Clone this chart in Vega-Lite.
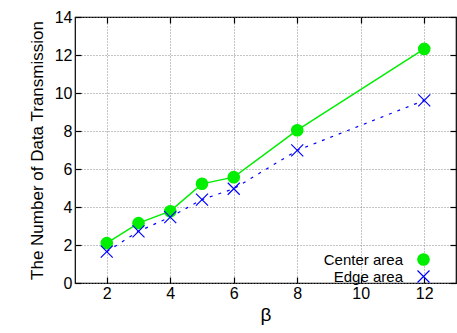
{
  "$schema": "https://vega.github.io/schema/vega-lite/v6.json",
  "width": 381,
  "height": 266,
  "autosize": "none",
  "padding": {"left": 75, "top": 17, "right": 1, "bottom": 50},
  "config": {
    "font": "Liberation Sans",
    "view": {"stroke": "black", "strokeWidth": 1.2}
  },
  "data": {
    "values": [
      {"beta": 2, "value": 2.1, "series": "Center area"},
      {"beta": 3, "value": 3.15, "series": "Center area"},
      {"beta": 4, "value": 3.78, "series": "Center area"},
      {"beta": 5, "value": 5.22, "series": "Center area"},
      {"beta": 6, "value": 5.57, "series": "Center area"},
      {"beta": 8, "value": 8.04, "series": "Center area"},
      {"beta": 12, "value": 12.32, "series": "Center area"},
      {"beta": 2, "value": 1.65, "series": "Edge area"},
      {"beta": 3, "value": 2.72, "series": "Edge area"},
      {"beta": 4, "value": 3.47, "series": "Edge area"},
      {"beta": 5, "value": 4.39, "series": "Edge area"},
      {"beta": 6, "value": 4.96, "series": "Edge area"},
      {"beta": 8, "value": 6.98, "series": "Edge area"},
      {"beta": 12, "value": 9.61, "series": "Edge area"}
    ]
  },
  "resolve": {"axis": {"x": "independent", "y": "independent"}},
  "layer": [
    {
      "transform": [{"filter": "datum.series === 'Center area'"}],
      "mark": {"type": "line", "strokeWidth": 1.5},
      "encoding": {
        "x": {"field": "beta", "type": "quantitative", "scale": {"domain": [1, 13], "nice": false},
              "axis": {"orient": "top", "title": null, "labels": false, "values": [2, 4, 6, 8, 10, 12],
                       "ticks": true, "tickSize": -6, "tickWidth": 1.2, "tickColor": "black", "domain": false, "grid": false, "zindex": 1}},
        "y": {"field": "value", "type": "quantitative", "scale": {"domain": [0, 14], "nice": false},
              "axis": {"orient": "right", "title": null, "labels": false, "values": [0, 2, 4, 6, 8, 10, 12, 14],
                       "ticks": true, "tickSize": -6, "tickWidth": 1.2, "tickColor": "black", "domain": false, "grid": false, "zindex": 1}},
        "color": {"field": "series", "type": "nominal", "title": null, "scale": {"domain": ["Center area", "Edge area"], "range": ["#00ee00", "#0000ff"]}}
      }
    },
    {
      "transform": [{"filter": "datum.series === 'Edge area'"}],
      "mark": {"type": "line", "strokeWidth": 1.2, "strokeDash": [3, 6]},
      "encoding": {
        "x": {"field": "beta", "type": "quantitative", "axis": null},
        "y": {"field": "value", "type": "quantitative", "axis": null},
        "color": {"field": "series", "type": "nominal", "title": null}
      }
    },
    {
      "mark": {"type": "point", "filled": false, "opacity": 1, "strokeWidth": 1.2},
      "encoding": {
        "x": {"field": "beta", "type": "quantitative",
              "axis": {"orient": "bottom", "title": "β", "titleFontSize": 19, "titlePadding": 4, "titleColor": "black", "titleFontWeight": "normal",
                       "values": [2, 4, 6, 8, 10, 12], "labelFontSize": 16, "labelColor": "black", "labelPadding": 8,
                       "tickSize": -6, "tickWidth": 1.2, "tickColor": "black", "domain": false, "grid": true, "gridColor": "#888888", "gridDash": [1, 2]}},
        "y": {"field": "value", "type": "quantitative",
              "axis": {"orient": "left", "title": "The Number of Data Transmission", "titleFontSize": 17, "titlePadding": 8, "titleColor": "black", "titleFontWeight": "normal",
                       "values": [0, 2, 4, 6, 8, 10, 12, 14], "labelFontSize": 16, "labelColor": "black", "labelPadding": 9,
                       "tickSize": -6, "tickWidth": 1.2, "tickColor": "black", "domain": false, "grid": true, "gridColor": "#888888", "gridDash": [1, 2]}},
        "color": {"field": "series", "type": "nominal", "title": null,
                  "legend": {"orient": "none", "legendX": 341, "legendY": 235, "labelFontSize": 15, "labelColor": "black", "labelAlign": "right", "labelOffset": -28, "rowPadding": 0, "symbolStrokeWidth": 1.2}},
        "shape": {"field": "series", "type": "nominal", "title": null, "scale": {"domain": ["Center area", "Edge area"], "range": ["circle", "M-1,-1L1,1M-1,1L1,-1"]}},
        "fill": {"field": "series", "type": "nominal", "title": null, "scale": {"domain": ["Center area", "Edge area"], "range": ["#00ee00", "transparent"]}},
        "size": {"field": "series", "type": "nominal", "scale": {"domain": ["Center area", "Edge area"], "range": [130, 144]}, "legend": null}
      }
    }
  ]
}
